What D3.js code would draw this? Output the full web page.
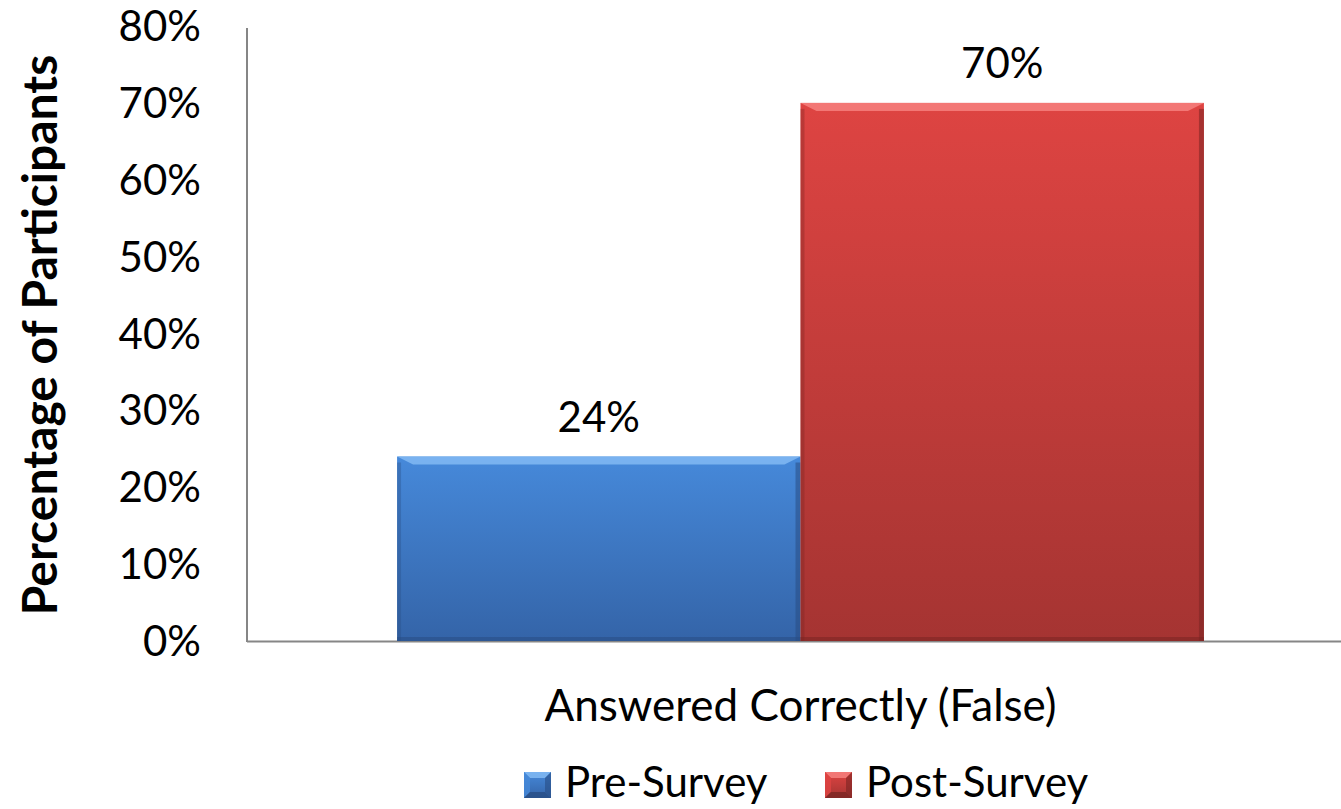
<!DOCTYPE html>
<html>
<head>
<meta charset="utf-8">
<script src="https://cdn.jsdelivr.net/npm/d3@7"></script>
<style>
  body { margin: 0; background: #fff; }
  text { font-family: Lato, "Open Sans", sans-serif; fill: #000; }
</style>
</head>
<body>
<svg width="1341" height="809"></svg>
<script>
const categories = ["Answered Correctly (False)"];
const seriesNames = ["Pre-Survey", "Post-Survey"];
const seriesValues = [[0.24], [0.70]];
const yTicks = [0, 0.1, 0.2, 0.3, 0.4, 0.5, 0.6, 0.7, 0.8];

const svg = d3.select("svg");
const plotLeft = 247, plotRight = 1354, plotTop = 26, plotBottom = 641;

// band of one category, bars 403px each
const x0 = d3.scaleBand().domain(categories).range([plotLeft, plotRight]).paddingInner(0).paddingOuter(0.186);
const x1 = d3.scaleBand().domain(seriesNames).range([0, x0.bandwidth()]);
const y = d3.scaleLinear().domain([0, 0.8]).range([plotBottom, plotTop]);

const colors = {
  "Pre-Survey": { top: "#4689da", bottom: "#3464a8", light: "#86bdf5", dark: "#284d84" },
  "Post-Survey": { top: "#de4442", bottom: "#a53432", light: "#f88482", dark: "#7a2523" }
};

const defs = svg.append("defs");
seriesNames.forEach((s, i) => {
  const g = defs.append("linearGradient").attr("id", "grad" + i)
    .attr("x1", 0).attr("y1", 0).attr("x2", 0).attr("y2", 1);
  g.append("stop").attr("offset", "0%").attr("stop-color", colors[s].top);
  g.append("stop").attr("offset", "100%").attr("stop-color", colors[s].bottom);
});

// axes
svg.append("line").attr("x1", plotLeft).attr("x2", 1341).attr("y1", plotBottom + 0.5).attr("y2", plotBottom + 0.5)
  .attr("stroke", "#868686").attr("stroke-width", 2);
svg.append("line").attr("x1", plotLeft).attr("x2", plotLeft).attr("y1", plotTop + 2).attr("y2", plotBottom + 1)
  .attr("stroke", "#868686").attr("stroke-width", 2);

svg.selectAll(".ytick").data(yTicks).enter().append("text")
  .attr("class", "ytick")
  .attr("x", 201).attr("y", d => y(d))
  .attr("dy", "0.36em")
  .attr("text-anchor", "end")
  .style("font-size", "42px")
  .text(d3.format(".0%"));

// bars
const bars = [];
seriesNames.forEach((s, i) => {
  categories.forEach((c, j) => {
    bars.push({ s, i, c, v: seriesValues[i][j] });
  });
});

const bevel = 16;
const g = svg.selectAll(".bar").data(bars).enter().append("g").attr("class", "bar");

g.append("rect")
  .attr("x", d => x0(d.c) + x1(d.s))
  .attr("y", d => y(d.v))
  .attr("width", x1.bandwidth())
  .attr("height", d => y(0) - y(d.v))
  .attr("fill", d => "url(#grad" + d.i + ")");

// top bevel highlight
g.append("path")
  .attr("d", d => {
    const xa = x0(d.c) + x1(d.s), xb = xa + x1.bandwidth(), yt = y(d.v);
    return `M${xa},${yt}L${xb},${yt}L${xb - bevel},${yt + 8}L${xa + bevel},${yt + 8}Z`;
  })
  .attr("fill", d => colors[d.s].light).attr("opacity", 0.8);

// side shades
g.append("rect")
  .attr("x", d => x0(d.c) + x1(d.s) + x1.bandwidth() - 5)
  .attr("y", d => y(d.v) + 6)
  .attr("width", 5)
  .attr("height", d => y(0) - y(d.v) - 6)
  .attr("fill", d => colors[d.s].dark).attr("opacity", 0.55);
g.append("rect")
  .attr("x", d => x0(d.c) + x1(d.s))
  .attr("y", d => y(d.v) + 6)
  .attr("width", 4)
  .attr("height", d => y(0) - y(d.v) - 6)
  .attr("fill", d => colors[d.s].dark).attr("opacity", 0.35);
g.append("rect")
  .attr("x", d => x0(d.c) + x1(d.s))
  .attr("y", d => y(0) - 4)
  .attr("width", x1.bandwidth())
  .attr("height", 4)
  .attr("fill", d => colors[d.s].dark).attr("opacity", 0.55);

g.append("text")
  .attr("x", d => x0(d.c) + x1(d.s) + x1.bandwidth() / 2)
  .attr("y", d => y(d.v) - 40)
  .attr("dy", "0.36em")
  .attr("text-anchor", "middle")
  .style("font-size", "42px")
  .text(d => d3.format(".0%")(d.v));

// category label
svg.selectAll(".xlabel").data(categories).enter().append("text")
  .attr("x", d => x0(d) + x0.bandwidth() / 2)
  .attr("y", 705)
  .attr("dy", "0.36em")
  .attr("text-anchor", "middle")
  .style("font-size", "44px")
  .text(d => d);

// y axis title
svg.append("text")
  .attr("transform", "translate(40,335) rotate(-90)")
  .attr("dy", "0.36em")
  .attr("text-anchor", "middle")
  .style("font-size", "48px")
  .style("font-weight", "bold")
  .text("Percentage of Participants");

// legend
const legendX = [524, 825];
const sq = 27;
const lg = svg.selectAll(".legend").data(seriesNames).enter().append("g")
  .attr("transform", (d, i) => `translate(${legendX[i]},772)`);
lg.append("rect").attr("width", sq).attr("height", sq - 1)
  .attr("fill", (d, i) => "url(#grad" + i + ")");
lg.append("path").attr("d", `M0,0L${sq},0L${sq - 6},6L6,6Z`)
  .attr("fill", d => colors[d].light).attr("opacity", 0.8);
lg.append("path").attr("d", `M0,0L6,6L6,${sq - 7}L0,${sq - 1}Z`)
  .attr("fill", d => colors[d].top).attr("opacity", 0.8);
lg.append("path").attr("d", `M${sq},0L${sq - 6},6L${sq - 6},${sq - 7}L${sq},${sq - 1}Z`)
  .attr("fill", d => colors[d].dark).attr("opacity", 0.6);
lg.append("path").attr("d", `M0,${sq - 1}L6,${sq - 7}L${sq - 6},${sq - 7}L${sq},${sq - 1}Z`)
  .attr("fill", d => colors[d].dark).attr("opacity", 0.8);
lg.append("text").attr("x", 41).attr("y", 10).attr("dy", "0.36em")
  .style("font-size", "42px")
  .text(d => d);
</script>
</body>
</html>
